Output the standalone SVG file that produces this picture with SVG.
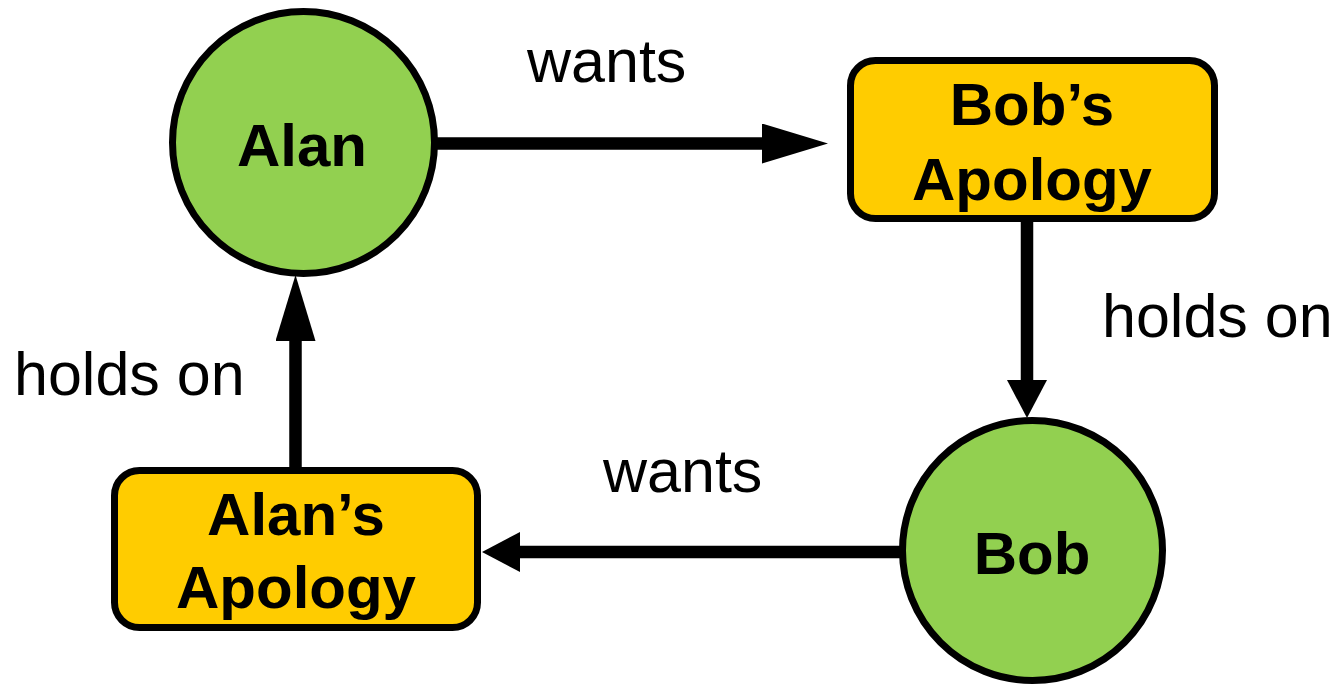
<svg xmlns="http://www.w3.org/2000/svg" width="1340" height="685" viewBox="0 0 1340 685">
  <style>
    .circle { fill: #92D050; stroke: #000; stroke-width: 7; }
    .box { fill: #FFCC00; stroke: #000; stroke-width: 7; }
    .node-text { font-family: "Liberation Sans", Arial, sans-serif; font-weight: bold; font-size: 60px; fill: #000; text-anchor: middle; }
    .edge { fill: none; stroke: #000; stroke-width: 12.5; }
    .label { font-family: "Liberation Sans", Arial, sans-serif; font-size: 61px; fill: #000; }
  </style>
  <defs>
    <marker id="headLong" markerUnits="userSpaceOnUse" viewBox="0 -20 66 40" markerWidth="66" markerHeight="40" refX="0" refY="0" orient="auto">
      <path d="M0,-20 L66,0 L0,20 Z" fill="#000"/>
    </marker>
    <marker id="headShort" markerUnits="userSpaceOnUse" viewBox="0 -20 38 40" markerWidth="38" markerHeight="40" refX="0" refY="0" orient="auto">
      <path d="M0,-20 L38,0 L0,20 Z" fill="#000"/>
    </marker>
  </defs>

  <g id="connectors">
    <path class="edge" d="M437,143.5 H762" marker-end="url(#headLong)"/>
    <path class="edge" d="M1027,218 V380" marker-end="url(#headShort)"/>
    <path class="edge" d="M907,552 H520" marker-end="url(#headShort)"/>
    <path class="edge" d="M295.5,467 V341" marker-end="url(#headLong)"/>
    <text class="label" x="527" y="82">wants</text>
    <text class="label" x="1102" y="337">holds on</text>
    <text class="label" x="14" y="395">holds on</text>
    <text class="label" x="603" y="492">wants</text>
  </g>

  <g id="alan">
    <circle class="circle" cx="303.5" cy="142.5" r="131"/>
    <text class="node-text" x="302" y="166">Alan</text>
  </g>

  <g id="bobs-apology">
    <rect class="box" x="850.5" y="60.5" width="364" height="158" rx="25" ry="25"/>
    <text class="node-text" x="1032" y="125">Bob’s</text>
    <text class="node-text" x="1032" y="200">Apology</text>
  </g>

  <g id="bob">
    <circle class="circle" cx="1032.5" cy="550.5" r="130"/>
    <text class="node-text" x="1032" y="574">Bob</text>
  </g>

  <g id="alans-apology">
    <rect class="box" x="114.5" y="470.5" width="363" height="157" rx="25" ry="25"/>
    <text class="node-text" x="296" y="535">Alan’s</text>
    <text class="node-text" x="296" y="608">Apology</text>
  </g>
</svg>
